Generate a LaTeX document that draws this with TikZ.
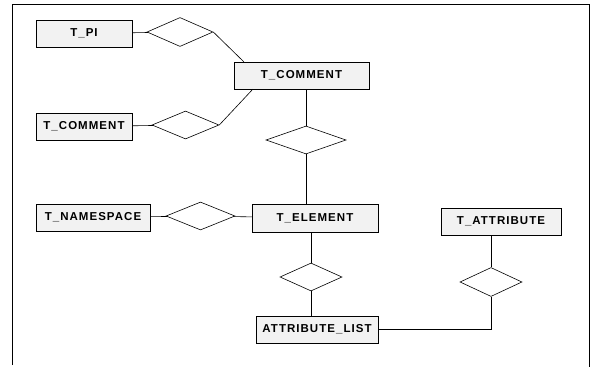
\documentclass[tikz,border=0pt]{standalone}
\usepackage{fontspec}
\newfontfamily\erfont[LetterSpace=9]{Liberation Sans}
\usetikzlibrary{shapes.geometric, positioning}

\tikzset{
  entity/.style={draw, fill=gray!10, minimum height=27pt, inner sep=0pt,
    font=\erfont\bfseries\fontsize{11.5}{13}\selectfont},
  relation/.style={draw, diamond, semithick, minimum width=66pt, minimum height=29pt, inner sep=0pt},
  link/.style={semithick}
}

\begin{document}
\begin{tikzpicture}[x=1pt, y=-1pt]
    \useasboundingbox (0,0) rectangle (590,367);
    \draw[thick] (12,365) -- (12,4) -- (589,4) -- (589,367);

    \node[entity, minimum width=96pt] (pi) at (84,33.5) {T\_PI};
    \node[relation] (pirel) at (180,32) {};
    \node[entity, minimum width=135pt] (comment) at (301.5,75.5) {T\_COMMENT};
    \node[entity, minimum width=96pt] (subcomment) at (84,126.5) {T\_COMMENT};
    \node[relation, minimum width=67pt, minimum height=28pt] (cmtrel) at (185.5,125) {};
    \node[relation, minimum width=80pt, minimum height=28pt] (childrel) at (306,140) {};
    \node[entity, minimum width=126pt, minimum height=28pt] (element) at (315,218) {T\_ELEMENT};
    \node[entity, minimum width=114pt] (namespace) at (93,217.5) {T\_NAMESPACE};
    \node[relation, minimum width=69pt, minimum height=28pt] (nsrel) at (200.5,216) {};
    \node[relation, minimum width=62pt, minimum height=28pt] (listrel) at (311,277) {};
    \node[entity, minimum width=122pt] (attrlist) at (317,329.5) {ATTRIBUTE\_LIST};
    \node[entity, minimum width=120pt] (attribute) at (501,221.5) {T\_ATTRIBUTE};
    \node[relation, minimum width=62pt] (attrrel) at (491,282) {};

    \draw[link] (pi) -- (pirel);
    \draw[link] (pirel.east) -- ([xshift=10pt]comment.north west);
    \draw[link] (subcomment) -- (cmtrel);
    \draw[link] (cmtrel.east) -- ([xshift=19pt]comment.south west);
    \draw[link] (comment.south -| childrel) -- (childrel);
    \draw[link] (childrel) -- (childrel |- element.north);
    \draw[link] (namespace) -- (nsrel) -- (element);
    \draw[link] (listrel |- element.south) -- (listrel) -- (listrel |- attrlist.north);
    \draw[link] (attribute.south -| attrrel) -- (attrrel);
    \draw[link] (attrrel) |- (attrlist);
\end{tikzpicture}
\end{document}
